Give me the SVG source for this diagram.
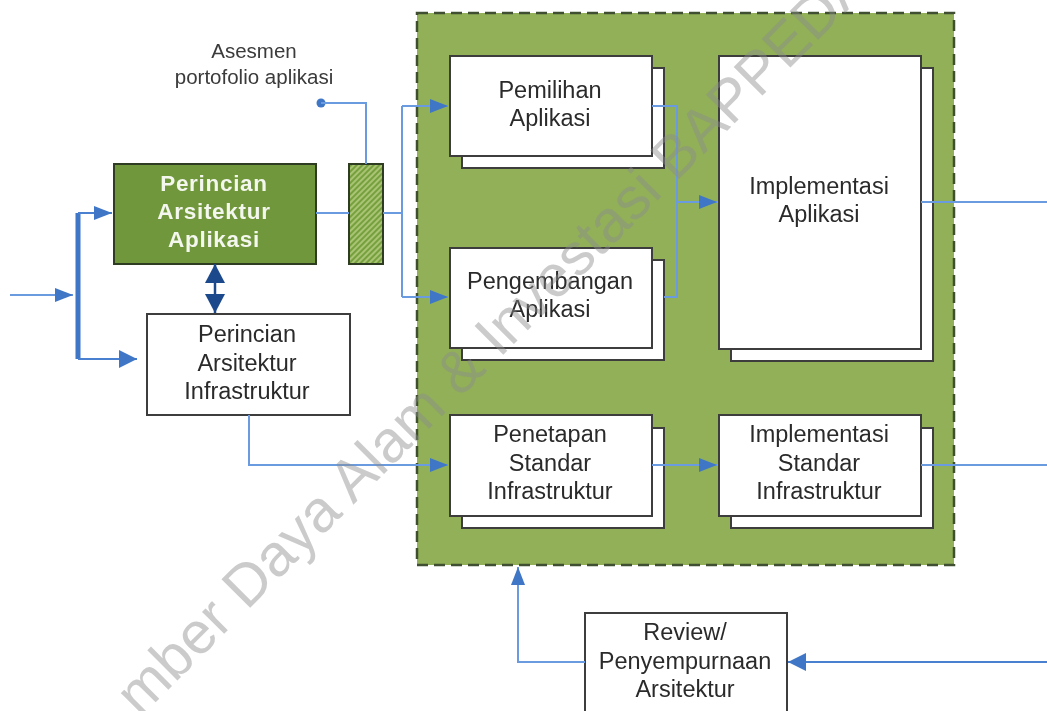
<svg xmlns="http://www.w3.org/2000/svg" width="1047" height="711" viewBox="0 0 1047 711">
<defs>
<filter id="soft" x="0" y="0" width="1047" height="711" filterUnits="userSpaceOnUse"><feGaussianBlur stdDeviation="0.7"/></filter>
<pattern id="hatch" width="4" height="4" patternUnits="userSpaceOnUse" patternTransform="rotate(-45)"><rect width="4" height="4" fill="#a9c474"/><rect width="4" height="2" fill="#76a03e"/></pattern>
<marker id="ah" markerWidth="20" markerHeight="16" refX="18" refY="7" orient="auto" markerUnits="userSpaceOnUse"><path d="M0,0L18,7L0,14Z" fill="#3f76c6"/></marker>
<marker id="ahb" markerWidth="20" markerHeight="20" refX="18" refY="9" orient="auto" markerUnits="userSpaceOnUse"><path d="M0,0L18,9L0,18Z" fill="#3f76c6"/></marker>
<marker id="dk" markerWidth="22" markerHeight="22" refX="19" refY="10" orient="auto-start-reverse" markerUnits="userSpaceOnUse"><path d="M0,0L19,10L0,20Z" fill="#1c4a8c"/></marker>
</defs>
<style>
text{font-family:"Liberation Sans",Arial,sans-serif;font-size:23.5px;fill:#2b2b2b;text-anchor:middle}
.box{fill:#fff;stroke:#3c3c3c;stroke-width:2}
.conn{fill:none;stroke:#6a9be0;stroke-width:2}
.mid{fill:none;stroke:#4a80d0;stroke-width:2.2}
.small{font-size:20.5px;fill:#3a3a3a}
.inv{fill:#f4f7ee;font-weight:bold;font-size:22.5px;letter-spacing:.7px}
.wm{font-size:59px;fill:#8c8c8c;fill-opacity:.45;text-anchor:start}
</style>
<rect width="1047" height="711" fill="#fff"/>
<g filter="url(#soft)">
<g id="container"><rect x="417" y="13" width="537" height="552" fill="#91b058" stroke="#3f4f30" stroke-width="2.5" stroke-dasharray="11 6"/></g>
<g id="node-asesmen"><text x="254" y="58" class="small">Asesmen</text><text x="254" y="84" class="small">portofolio aplikasi</text></g>
<g id="node-perincian-aplikasi"><rect x="114" y="164" width="202" height="100" fill="#70973a" stroke="#2f3d22" stroke-width="2"/><text x="214" y="191" class="inv">Perincian</text><text x="214" y="219" class="inv">Arsitektur</text><text x="214" y="247" class="inv">Aplikasi</text></g>
<g id="node-hatch"><rect x="349" y="164" width="34" height="100" fill="url(#hatch)" stroke="#2f3d22" stroke-width="2"/></g>
<g id="node-perincian-infra"><rect x="147" y="314" width="203" height="101" class="box"/><text x="247" y="342">Perincian</text><text x="247" y="371">Arsitektur</text><text x="247" y="399">Infrastruktur</text></g>
<g id="node-pemilihan"><rect x="462" y="68" width="202" height="100" class="box"/><rect x="450" y="56" width="202" height="100" class="box"/><text x="550" y="98">Pemilihan</text><text x="550" y="126">Aplikasi</text></g>
<g id="node-pengembangan"><rect x="462" y="260" width="202" height="100" class="box"/><rect x="450" y="248" width="202" height="100" class="box"/><text x="550" y="289">Pengembangan</text><text x="550" y="317">Aplikasi</text></g>
<g id="node-implementasi-aplikasi"><rect x="731" y="68" width="202" height="293" class="box"/><rect x="719" y="56" width="202" height="293" class="box"/><text x="819" y="194">Implementasi</text><text x="819" y="222">Aplikasi</text></g>
<g id="node-penetapan"><rect x="462" y="428" width="202" height="100" class="box"/><rect x="450" y="415" width="202" height="101" class="box"/><text x="550" y="442">Penetapan</text><text x="550" y="471">Standar</text><text x="550" y="499">Infrastruktur</text></g>
<g id="node-implementasi-standar"><rect x="731" y="428" width="202" height="100" class="box"/><rect x="719" y="415" width="202" height="101" class="box"/><text x="819" y="442">Implementasi</text><text x="819" y="471">Standar</text><text x="819" y="499">Infrastruktur</text></g>
<g id="node-review"><rect x="585" y="613" width="202" height="100" class="box"/><text x="685" y="640">Review/</text><text x="685" y="669">Penyempurnaan</text><text x="685" y="697">Arsitektur</text></g>
<g id="connectors">
<path class="conn" d="M10,295H73" marker-end="url(#ah)"/>
<path d="M78,213V359" fill="none" stroke="#3f76c6" stroke-width="5"/>
<path class="mid" d="M78,213H112" marker-end="url(#ah)"/>
<path class="mid" d="M78,359H137" marker-end="url(#ahb)"/>
<path fill="none" stroke="#1c4a8c" stroke-width="2.5" d="M215,264V313" marker-start="url(#dk)" marker-end="url(#dk)"/>
<circle cx="321" cy="103" r="4.5" fill="#3f76c6"/>
<path class="conn" d="M321,103H366V164"/>
<path class="conn" d="M316,213H349M383,213H402"/>
<path class="conn" d="M402,106V297"/>
<path class="conn" d="M402,106H448" marker-end="url(#ah)"/>
<path class="conn" d="M402,297H448" marker-end="url(#ah)"/>
<path class="conn" d="M652,106H677V297H664"/>
<path class="conn" d="M677,202H717" marker-end="url(#ah)"/>
<path class="conn" d="M921,202H1047"/>
<path class="conn" d="M249,415V465H448" marker-end="url(#ah)"/>
<path class="conn" d="M652,465H717" marker-end="url(#ah)"/>
<path class="conn" d="M921,465H1047"/>
<path class="conn" d="M585,662H518V567" marker-end="url(#ah)"/>
<path class="mid" d="M1047,662H788" marker-end="url(#ahb)" stroke-width="2.6"/>
</g>
<text class="wm" transform="translate(140,718) rotate(-45)">mber Daya Alam &amp; Investasi BAPPEDA</text>
</g>
</svg>
